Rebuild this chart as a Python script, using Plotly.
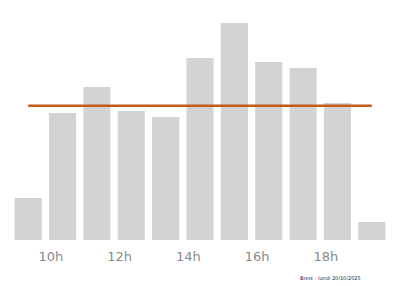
import plotly.graph_objects as go

hours = [9, 10, 11, 12, 13, 14, 15, 16, 17, 18, 19]
values = [42, 127, 153, 129, 123, 182, 217, 178, 172, 137, 18]
tick_hours = [10, 12, 14, 16, 18]
tick_labels = ["10h", "12h", "14h", "16h", "18h"]
label_offset = -0.34
mean_value = sum(values) / len(values)
caption = "Brest - lundi 20/10/2025"

fig = go.Figure()
fig.add_trace(go.Bar(x=hours, y=values, marker=dict(color="#d3d3d3", line=dict(width=0)),
                     hoverinfo="skip"))
fig.add_trace(go.Scatter(x=[hours[0], hours[-1]], y=[mean_value, mean_value], mode="lines",
                         line=dict(color="#c8581c", width=2.5), hoverinfo="skip"))

fig.update_layout(
    width=400, height=286,
    margin=dict(l=11, r=11, t=12, b=46),
    paper_bgcolor="white", plot_bgcolor="white",
    showlegend=False, bargap=0.21,
    xaxis=dict(range=[8.5, 19.5], tickvals=[h + label_offset for h in tick_hours], ticktext=tick_labels,
               showgrid=False, zeroline=False, showline=False, ticks="", ticklabelstandoff=7,
               tickfont=dict(family="DejaVu Sans", size=13, color="#8a8a8a")),
    yaxis=dict(range=[0, 228], visible=False, showgrid=False, zeroline=False),
    annotations=[dict(text=caption, xref="paper", yref="paper", x=0.932, y=-0.165,
                      xanchor="right", yanchor="middle", showarrow=False,
                      font=dict(family="DejaVu Sans", size=5, color="#222"))],
)
fig.write_html("out.html")
